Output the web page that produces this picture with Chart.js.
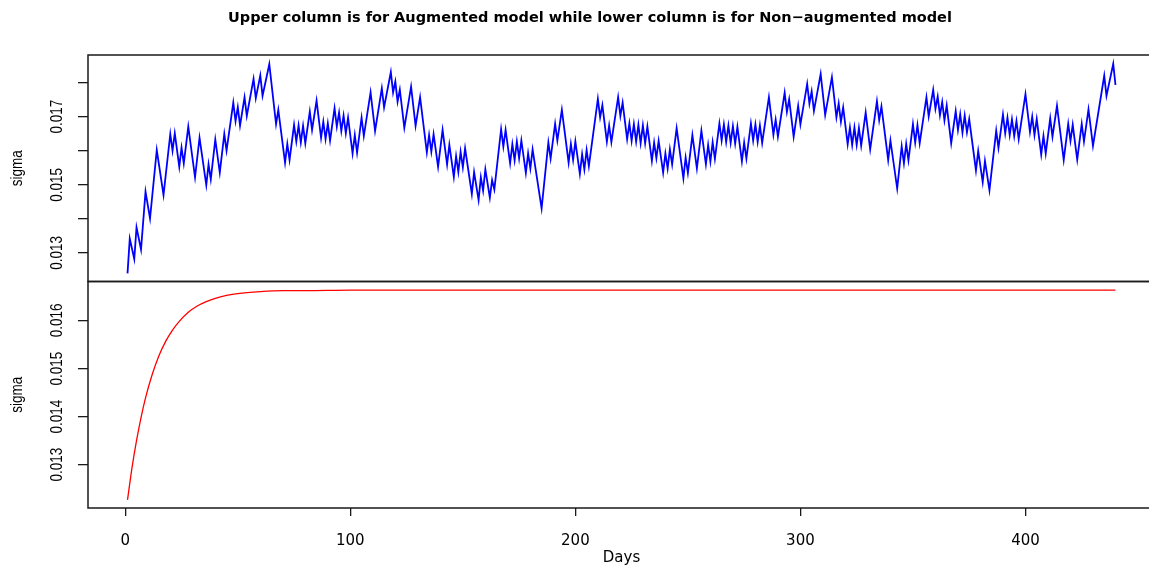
<!DOCTYPE html>
<html>
<head>
<meta charset="utf-8">
<title>Sigma by day</title>
<script src="https://cdn.jsdelivr.net/npm/chart.js@4.4.1/dist/chart.umd.min.js"></script>
<style>
  html, body { margin: 0; padding: 0; background: #fff; overflow: hidden; }
  #wrap { width: 1149px; height: 569px; overflow: hidden; }
</style>
</head>
<body>
<div id="wrap"><canvas id="sigmaChart" width="1180" height="569"></canvas></div>
<script>
// augmented model: daily sigma (turning points of the path)
const augDays = [
  1, 2, 4, 5, 7, 9, 11, 14, 17, 20,
  21, 22, 24, 25, 26, 28, 31, 33, 36, 37,
  38, 40, 42, 44, 45, 48, 49, 50, 51, 53,
  54, 57, 58, 60, 61, 64, 67, 68, 71, 72,
  73, 75, 76, 77, 78, 79, 80, 82, 83, 85,
  87, 88, 89, 90, 91, 93, 94, 95, 96, 97,
  98, 99, 101, 102, 103, 105, 106, 109, 111, 114,
  115, 118, 119, 120, 121, 122, 124, 127, 129, 131,
  134, 135, 136, 137, 139, 141, 143, 144, 146, 147,
  148, 149, 150, 151, 154, 155, 157, 158, 159, 160,
  162, 163, 164, 167, 168, 169, 171, 172, 173, 174,
  175, 176, 178, 179, 180, 181, 185, 188, 189, 191,
  192, 194, 197, 198, 199, 200, 202, 203, 204, 205,
  206, 210, 211, 212, 214, 215, 216, 219, 220, 221,
  223, 224, 225, 226, 227, 228, 229, 230, 231, 232,
  234, 235, 236, 237, 239, 240, 241, 242, 243, 245,
  248, 249, 250, 252, 254, 256, 258, 259, 260, 261,
  262, 264, 265, 266, 267, 268, 269, 270, 271, 272,
  274, 275, 276, 278, 279, 280, 281, 282, 283, 286,
  288, 289, 290, 293, 294, 295, 297, 299, 300, 303,
  304, 305, 306, 309, 311, 314, 316, 317, 318, 319,
  321, 322, 323, 324, 325, 326, 327, 329, 331, 334,
  335, 336, 339, 340, 343, 345, 346, 347, 348, 350,
  351, 352, 353, 356, 357, 359, 360, 361, 362, 363,
  364, 365, 367, 369, 370, 371, 372, 373, 374, 375,
  378, 379, 381, 382, 384, 387, 388, 390, 391, 392,
  393, 394, 395, 396, 397, 400, 402, 403, 404, 405,
  407, 408, 409, 411, 412, 414, 417, 419, 420, 421,
  423, 425, 426, 428, 430, 435, 436, 439, 440
];
const augSigma = [
  0.01240, 0.01342, 0.01282, 0.01375, 0.01310, 0.01480, 0.01401, 0.01602, 0.01470, 0.01649,
  0.01600, 0.01651, 0.01553, 0.01609, 0.01563, 0.01671, 0.01522, 0.01638, 0.01499, 0.01560,
  0.01516, 0.01633, 0.01536, 0.01649, 0.01600, 0.01741, 0.01687, 0.01728, 0.01674, 0.01757,
  0.01702, 0.01811, 0.01754, 0.01821, 0.01761, 0.01854, 0.01678, 0.01720, 0.01565, 0.01620,
  0.01573, 0.01676, 0.01627, 0.01674, 0.01624, 0.01673, 0.01622, 0.01715, 0.01661, 0.01747,
  0.01638, 0.01685, 0.01634, 0.01680, 0.01630, 0.01725, 0.01671, 0.01712, 0.01658, 0.01703,
  0.01651, 0.01697, 0.01592, 0.01646, 0.01594, 0.01697, 0.01643, 0.01771, 0.01658, 0.01783,
  0.01727, 0.01831, 0.01771, 0.01803, 0.01744, 0.01779, 0.01667, 0.01788, 0.01673, 0.01757,
  0.01595, 0.01646, 0.01597, 0.01648, 0.01553, 0.01661, 0.01560, 0.01617, 0.01523, 0.01584,
  0.01538, 0.01597, 0.01551, 0.01607, 0.01473, 0.01537, 0.01455, 0.01522, 0.01483, 0.01545,
  0.01462, 0.01514, 0.01486, 0.01663, 0.01612, 0.01661, 0.01563, 0.01619, 0.01572, 0.01627,
  0.01578, 0.01630, 0.01535, 0.01592, 0.01548, 0.01604, 0.01431, 0.01624, 0.01577, 0.01679,
  0.01630, 0.01720, 0.01565, 0.01620, 0.01573, 0.01627, 0.01532, 0.01590, 0.01545, 0.01602,
  0.01555, 0.01752, 0.01698, 0.01734, 0.01627, 0.01674, 0.01625, 0.01757, 0.01702, 0.01741,
  0.01634, 0.01680, 0.01629, 0.01678, 0.01627, 0.01676, 0.01622, 0.01674, 0.01622, 0.01671,
  0.01570, 0.01624, 0.01578, 0.01629, 0.01536, 0.01592, 0.01548, 0.01604, 0.01560, 0.01666,
  0.01519, 0.01580, 0.01535, 0.01646, 0.01548, 0.01659, 0.01560, 0.01617, 0.01568, 0.01625,
  0.01576, 0.01680, 0.01630, 0.01677, 0.01626, 0.01674, 0.01623, 0.01672, 0.01621, 0.01670,
  0.01569, 0.01624, 0.01577, 0.01680, 0.01630, 0.01677, 0.01626, 0.01674, 0.01623, 0.01757,
  0.01647, 0.01691, 0.01641, 0.01770, 0.01714, 0.01751, 0.01641, 0.01732, 0.01677, 0.01796,
  0.01738, 0.01774, 0.01717, 0.01825, 0.01705, 0.01816, 0.01698, 0.01739, 0.01685, 0.01727,
  0.01619, 0.01668, 0.01617, 0.01668, 0.01617, 0.01667, 0.01615, 0.01712, 0.01604, 0.01745,
  0.01690, 0.01730, 0.01573, 0.01630, 0.01489, 0.01613, 0.01563, 0.01620, 0.01572, 0.01678,
  0.01624, 0.01675, 0.01622, 0.01757, 0.01701, 0.01779, 0.01723, 0.01759, 0.01704, 0.01743,
  0.01689, 0.01733, 0.01622, 0.01716, 0.01661, 0.01707, 0.01653, 0.01703, 0.01654, 0.01693,
  0.01542, 0.01599, 0.01508, 0.01570, 0.01484, 0.01659, 0.01608, 0.01706, 0.01651, 0.01697,
  0.01646, 0.01692, 0.01643, 0.01687, 0.01634, 0.01766, 0.01655, 0.01700, 0.01646, 0.01693,
  0.01589, 0.01643, 0.01592, 0.01695, 0.01641, 0.01732, 0.01573, 0.01679, 0.01629, 0.01676,
  0.01574, 0.01679, 0.01627, 0.01721, 0.01614, 0.01820, 0.01761, 0.01855, 0.01793
];

// non-augmented model: smooth sigma curve
const plainDays = [1, 3, 5, 7, 9, 12, 15, 18, 21, 24, 28, 32, 36, 40, 45, 50, 60, 70, 80, 100, 200, 300, 440];
const plainSigma = [0.01227, 0.01294, 0.01350, 0.01398, 0.01439, 0.01488, 0.01527, 0.01557,
  0.01580, 0.01598, 0.01617, 0.01630, 0.01639, 0.01646, 0.01652, 0.01656, 0.01660, 0.01662,
  0.01662, 0.01663, 0.01663, 0.01663, 0.01663];

const dayTicks = [0, 100, 200, 300, 400];
const upperTicks = [0.013, 0.014, 0.015, 0.016, 0.017, 0.018];
const upperTickLabels = [0.013, 0.015, 0.017];
const lowerTicks = [0.013, 0.014, 0.015, 0.016];
const lowerTickLabels = [0.013, 0.014, 0.015, 0.016];

const INK = '#1a1a1a';

// upright text, widened across like the rest of the lettering
function drawUpright(ctx, text, x, y, font) {
  ctx.save();
  ctx.translate(x, y);
  ctx.rotate(-Math.PI / 2);
  ctx.scale(1, 1.22);
  ctx.font = font;
  ctx.fillStyle = '#000';
  ctx.textAlign = 'center';
  ctx.textBaseline = 'middle';
  ctx.fillText(text, 0, 0);
  ctx.restore();
}

const panelFrame = {
  id: 'panelFrame',
  afterDraw(chart) {
    const { ctx, chartArea } = chart;
    const panels = [
      { scale: chart.scales.yUp, labels: upperTickLabels },
      { scale: chart.scales.yLow, labels: lowerTickLabels }
    ];
    ctx.save();
    ctx.strokeStyle = INK;
    ctx.lineWidth = 1.5;
    panels.forEach(p => {
      ctx.strokeRect(chartArea.left, p.scale.top, chartArea.right - chartArea.left, p.scale.bottom - p.scale.top);
    });
    ctx.restore();
    panels.forEach(p => {
      p.labels.forEach(v => {
        drawUpright(ctx, v.toFixed(3), 57, p.scale.getPixelForValue(v), '13.5px "Liberation Sans", Arial, sans-serif');
      });
      drawUpright(ctx, 'sigma', 17, (p.scale.top + p.scale.bottom) / 2, '13.5px "Liberation Sans", Arial, sans-serif');
    });
  }
};

function yPanel(min, max, ticks) {
  return {
    type: 'linear',
    position: 'left',
    stack: 'panels',
    stackWeight: 1,
    min: min,
    max: max,
    afterBuildTicks: scale => { scale.ticks = ticks.map(value => ({ value })); },
    afterFit: scale => { scale.width = 63; },
    ticks: { display: false },
    grid: { drawOnChartArea: false, drawTicks: true, tickLength: 10, color: INK, lineWidth: 1.3 },
    border: { display: false }
  };
}

new Chart(document.getElementById('sigmaChart'), {
  type: 'line',
  data: {
    datasets: [
      {
        label: 'Augmented',
        data: augDays.map((d, i) => ({ x: d, y: augSigma[i] })),
        yAxisID: 'yUp',
        borderColor: '#0000ff',
        borderWidth: 1.8,
        pointRadius: 0,
        tension: 0,
        fill: false
      },
      {
        label: 'Non-augmented',
        data: plainDays.map((d, i) => ({ x: d, y: plainSigma[i] })),
        yAxisID: 'yLow',
        borderColor: '#ff0000',
        borderWidth: 1.3,
        pointRadius: 0,
        cubicInterpolationMode: 'monotone',
        fill: false
      }
    ]
  },
  options: {
    responsive: false,
    animation: false,
    layout: { padding: { left: 25, right: 25, top: 0, bottom: 0 } },
    plugins: {
      legend: { display: false },
      tooltip: { enabled: false },
      title: {
        display: true,
        text: 'Upper column is for Augmented model while lower column is for Non\u2212augmented model',
        color: '#000',
        font: { family: '"DejaVu Sans", sans-serif', size: 14.5, weight: 'bold' },
        padding: { top: 10, bottom: 27.6 }
      }
    },
    scales: {
      x: {
        type: 'linear',
        position: 'bottom',
        min: -16.56,
        max: 457.56,
        afterBuildTicks: scale => { scale.ticks = dayTicks.map(value => ({ value })); },
        afterFit: scale => { scale.height = 61; },
        ticks: { color: '#000', padding: 16, maxRotation: 0, font: { family: '"DejaVu Sans", sans-serif', size: 15 } },
        grid: { drawOnChartArea: false, drawTicks: true, tickLength: 8, color: INK, lineWidth: 1.3 },
        border: { display: false },
        title: {
          display: true,
          text: 'Days',
          color: '#000',
          font: { family: '"DejaVu Sans", sans-serif', size: 15 },
          padding: { top: 0, bottom: 2 }
        }
      },
      // stacked panels: the scale listed first lands at the bottom
      yLow: yPanel(0.0121, 0.01681, lowerTicks),
      yUp: yPanel(0.01216, 0.01881, upperTicks)
    }
  },
  plugins: [panelFrame]
});
</script>
</body>
</html>
